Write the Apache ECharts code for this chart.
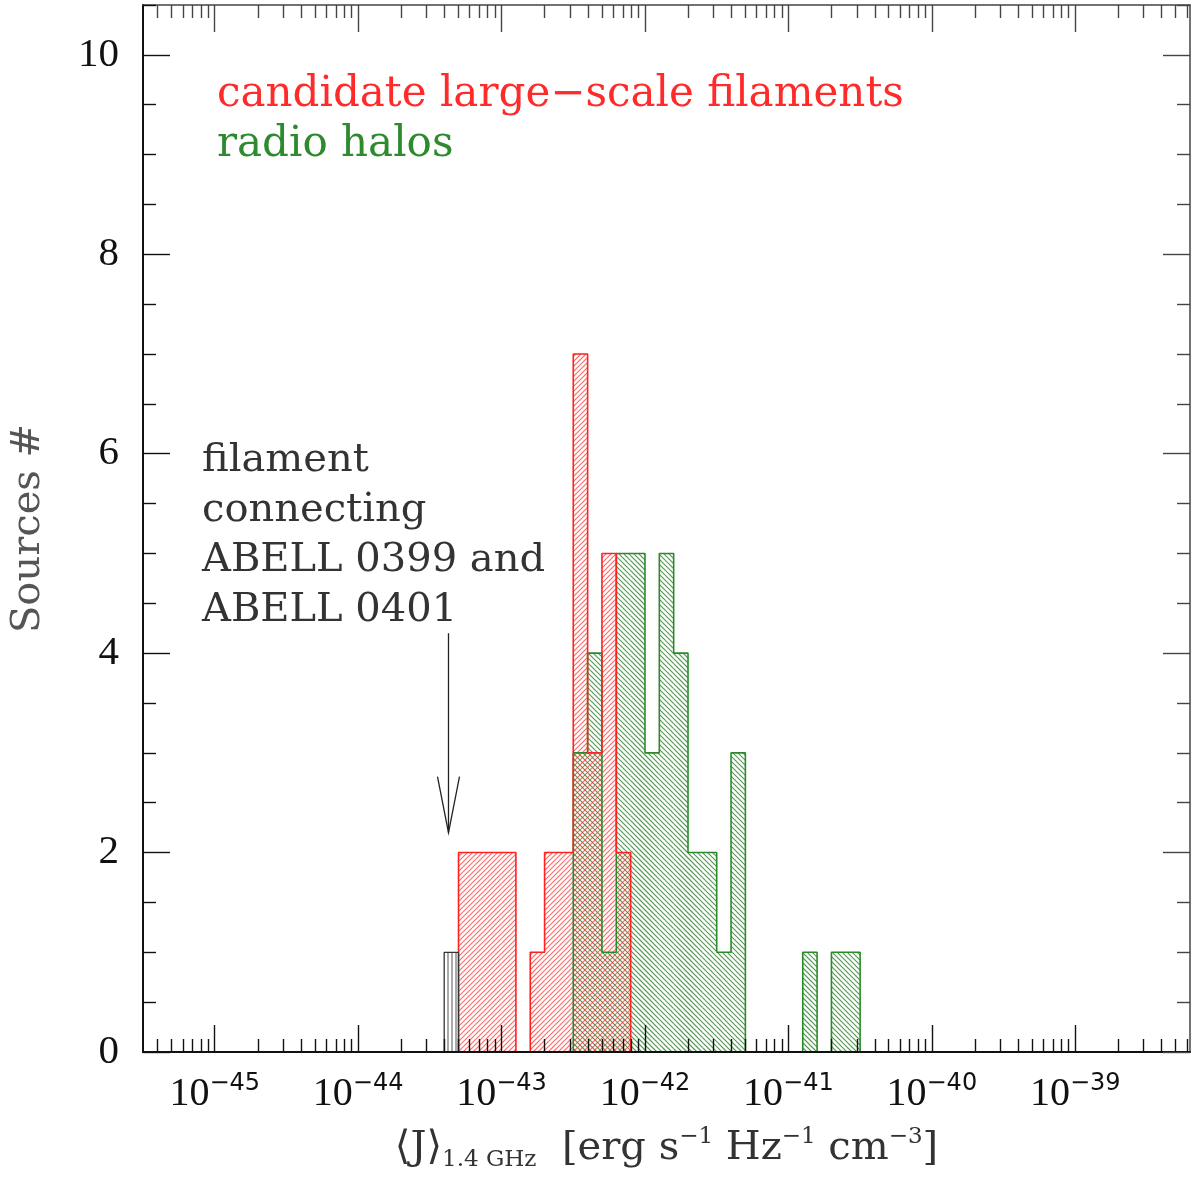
<!DOCTYPE html>
<html>
<head>
<meta charset="utf-8">
<script src="https://cdn.jsdelivr.net/npm/echarts@6.0.0/dist/echarts.min.js"></script>
<style>
html,body{margin:0;padding:0;background:#fff;}
#chart{width:1195px;height:1177px;}
</style>
</head>
<body>
<div id="chart"></div>
<script>
// ---------- data ----------
const xMin = -45.5;             // log10 of axis range
const xMax = -38.2;
const xTickExponents = [-45, -44, -43, -42, -41, -40, -39];
const xMinorMantissas = [2, 3, 4, 5, 6, 7, 8, 9];
const yTickValues = [0, 2, 4, 6, 8, 10];
const yMinorValues = [0.5, 1, 1.5, 2.5, 3, 3.5, 4.5, 5, 5.5, 6.5, 7, 7.5, 8.5, 9, 9.5, 10.5];
const binWidth = 0.1;           // dex

const filamentBinStarts = [-43.3, -43.2, -43.1, -43.0, -42.9, -42.8, -42.7, -42.6, -42.5, -42.4, -42.3, -42.2];
const filamentCounts    = [2, 2, 2, 2, 0, 1, 2, 2, 7, 3, 5, 2];

const haloBinStarts = [-42.5, -42.4, -42.3, -42.2, -42.1, -42.0, -41.9, -41.8, -41.7, -41.6, -41.5, -41.4, -41.3, -41.2, -41.1, -41.0, -40.9, -40.8, -40.7, -40.6];
const haloCounts    = [3, 4, 1, 5, 5, 3, 5, 4, 2, 2, 1, 3, 0, 0, 0, 0, 1, 0, 1, 1];

const a399BinStarts = [-43.4];
const a399Counts    = [1];

const arrowX = -43.37, arrowFrom = 4.2, arrowTo = 2.2;

const filamentName = 'candidate large\u2212scale filaments';
const haloName = 'radio halos';
const a399Name = 'filament connecting ABELL 0399 and ABELL 0401';
const annotationText = 'filament\nconnecting\nABELL 0399 and\nABELL 0401';

// ---------- helpers ----------
function stepPoints(starts, counts) {
  const pts = [[starts[0], 0]];
  for (let i = 0; i < starts.length; i++) pts.push([starts[i], counts[i]]);
  pts.push([+(starts[starts.length - 1] + binWidth).toFixed(3), 0]);
  return pts;
}
const xMinorValues = [];
for (let n = Math.floor(xMin) - 1; n <= Math.ceil(xMax); n++) {
  xMinorMantissas.forEach(m => {
    const v = n + Math.log10(m);
    if (v > xMin && v < xMax) xMinorValues.push(v);
  });
}

// hatched fill of each histogram bin, drawn in pixel space from the axis scales
function hatchSeries(name, starts, counts, dir, color, period, lw, z) {
  return {
    type: 'custom', name: name, xAxisIndex: 0, yAxisIndex: 0, z: z, silent: true,
    encode: {x: [0, 1], y: 2},
    data: starts.map((s, i) => [s, +(s + binWidth).toFixed(3), counts[i]]),
    renderItem: function (params, api) {
      const c = api.value(2);
      if (!c) return null;
      const a = api.coord([api.value(0), 0]);
      const b = api.coord([api.value(1), c]);
      const x0 = a[0], x1 = b[0], y0 = b[1], y1 = a[1];
      const segs = [];
      if (dir === '|') {
        for (let x = Math.ceil(x0 / period) * period; x <= x1; x += period) segs.push([x, y0, x, y1]);
      } else if (dir === '/') {
        for (let k = Math.ceil((x0 + y0) / period) * period; k <= x1 + y1; k += period) {
          const xa = Math.max(x0, k - y1), xb = Math.min(x1, k - y0);
          if (xb > xa) segs.push([xa, k - xa, xb, k - xb]);
        }
      } else {
        for (let k = Math.ceil((x0 - y1) / period) * period; k <= x1 - y0; k += period) {
          const xa = Math.max(x0, k + y0), xb = Math.min(x1, k + y1);
          if (xb > xa) segs.push([xa, xa - k, xb, xb - k]);
        }
      }
      return {
        type: 'group',
        children: segs.map(s => ({
          type: 'line', shape: {x1: s[0], y1: s[1], x2: s[2], y2: s[3]},
          style: {stroke: color, lineWidth: lw}
        }))
      };
    }
  };
}
function outlineSeries(name, starts, counts, color, width, z) {
  return {
    type: 'line', name: name, step: 'end', xAxisIndex: 0, yAxisIndex: 0,
    data: stepPoints(starts, counts),
    showSymbol: false, symbol: 'none', z: z, silent: true,
    lineStyle: {color: color, width: width},
    itemStyle: {color: color}
  };
}

const serif = 'DejaVu Serif';
const numFont = 'Liberation Serif';
const red = '#ff2020';
const green = '#2a8a2a';

const chart = echarts.init(document.getElementById('chart'), null, {renderer: 'canvas'});

function xAxisDef(pos, ticks, len, major, color, width) {
  return {
    type: 'value', position: pos, min: xMin, max: xMax, z: 5,
    axisLine: {show: major, onZero: false, lineStyle: {color: color, width: width}},
    axisTick: {show: true, inside: true, length: len, customValues: ticks, lineStyle: {color: color, width: 1.4}},
    axisLabel: {show: false},
    splitLine: {show: false}
  };
}
function yAxisDef(pos, ticks, len, major, color, width) {
  return {
    type: 'value', position: pos, min: 0, max: 10.5, z: 5,
    axisLine: {show: major, onZero: false, lineStyle: {color: color, width: width}},
    axisTick: {show: true, inside: true, length: len, customValues: ticks, lineStyle: {color: color, width: 1.4}},
    axisLabel: {show: false},
    splitLine: {show: false}
  };
}

const xMain = xAxisDef('bottom', xTickExponents, 27, true, '#111', 2);
xMain.axisLabel = {
  show: true, customValues: xTickExponents, margin: 20,
  formatter: v => '{b|10}{s|\u2212' + Math.abs(Math.round(v)) + '}',
  rich: {
    b: {fontFamily: numFont, fontSize: 40, lineHeight: 42, color: '#111', verticalAlign: 'bottom'},
    s: {fontFamily: 'DejaVu Sans', fontSize: 24, lineHeight: 30, color: '#111', verticalAlign: 'top'}
  }
};
xMain.name = '{m|\u27E8J\u27E9}{s|1.4 GHz}{m|  [erg s}{u|\u22121}{m| Hz}{u|\u22121}{m| cm}{u|\u22123}{m|]}';
xMain.nameLocation = 'middle';
xMain.nameGap = 74;
xMain.nameTextStyle = {
  color: '#333',
  rich: {
    m: {fontFamily: serif, fontSize: 40, lineHeight: 46, color: '#333'},
    s: {fontFamily: serif, fontSize: 23, lineHeight: 14, verticalAlign: 'bottom', color: '#333'},
    u: {fontFamily: serif, fontSize: 23, lineHeight: 14, verticalAlign: 'top', color: '#333'}
  }
};

const yMain = yAxisDef('left', yTickValues, 27, true, '#111', 2);
yMain.axisLabel = {
  show: true, customValues: yTickValues, margin: 24,
  fontFamily: numFont, fontSize: 41, color: '#111'
};
yMain.name = 'Sources #';
yMain.nameLocation = 'middle';
yMain.nameRotate = 90;
yMain.nameGap = 94;
yMain.nameTextStyle = {fontFamily: serif, fontSize: 40, color: '#555'};

const option = {
  animation: false,
  backgroundColor: '#fff',
  grid: {left: 143, right: 5, top: 5, bottom: 125, containLabel: false, outerBoundsMode: 'none'},
  legend: {
    orient: 'vertical', left: 207, top: 69,
    itemWidth: 0, itemHeight: 0, itemGap: 8, icon: 'rect',
    itemStyle: {opacity: 0}, lineStyle: {opacity: 0},
    selectedMode: false,
    textStyle: {fontFamily: serif, fontSize: 42, lineHeight: 42},
    data: [
      {name: filamentName, textStyle: {color: '#ff2b2b'}},
      {name: haloName, textStyle: {color: '#2e8a2e'}}
    ]
  },
  xAxis: [
    xMain,
    xAxisDef('bottom', xMinorValues, 13, false, '#111', 2),
    xAxisDef('top', xTickExponents, 27, true, '#444', 1.5),
    xAxisDef('top', xMinorValues, 13, false, '#444', 1.5)
  ],
  yAxis: [
    yMain,
    yAxisDef('left', yMinorValues, 13, false, '#111', 2),
    yAxisDef('right', yTickValues, 27, true, '#444', 1.5),
    yAxisDef('right', yMinorValues, 13, false, '#444', 1.5)
  ],
  graphic: [
    {
      type: 'text', left: 202, top: 436, z: 10,
      style: {text: annotationText, font: '40px "DejaVu Serif"', fill: '#333', lineHeight: 50}
    }
  ],
  series: [
    hatchSeries(haloName + ' fill', haloBinStarts, haloCounts, '\\', 'rgba(25,115,25,0.75)', 5, 1.1, 2),
    hatchSeries(filamentName + ' fill', filamentBinStarts, filamentCounts, '/', 'rgba(255,40,40,0.7)', 5, 1.1, 2),
    hatchSeries(a399Name + ' fill', a399BinStarts, a399Counts, '|', 'rgba(40,40,40,0.8)', 4, 1, 2),
    outlineSeries(haloName, haloBinStarts, haloCounts, green, 1.6, 3),
    outlineSeries(filamentName, filamentBinStarts, filamentCounts, red, 1.6, 3),
    outlineSeries(a399Name, a399BinStarts, a399Counts, '#333', 1.3, 3),
    {
      type: 'custom', name: 'arrow', xAxisIndex: 0, yAxisIndex: 0, silent: true, z: 6,
      encode: {x: 0, y: [1, 2]},
      data: [[arrowX, arrowFrom, arrowTo]],
      renderItem: function (params, api) {
        const p1 = api.coord([api.value(0), api.value(1)]);
        const p2 = api.coord([api.value(0), api.value(2)]);
        return {
          type: 'group',
          children: [
            {type: 'line', shape: {x1: p1[0], y1: p1[1], x2: p2[0], y2: p2[1]}, style: {stroke: '#222', lineWidth: 1.3}},
            {type: 'polyline', shape: {points: [[p2[0] - 11, p2[1] - 56], [p2[0], p2[1]], [p2[0] + 11, p2[1] - 56]]},
             style: {stroke: '#222', lineWidth: 1.3, fill: null}}
          ]
        };
      }
    }
  ]
};
chart.setOption(option);
</script>
</body>
</html>
